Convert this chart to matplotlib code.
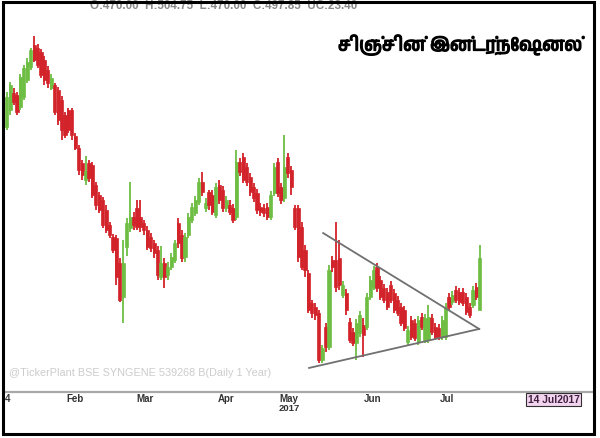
import matplotlib.pyplot as plt
import matplotlib.font_manager as fm
import matplotlib.patheffects as pe
from matplotlib.patches import Rectangle

# candles (prices, daily, mid Jan - 14 Jul 2017)
opens = [568.0, 577.1, 586.2, 585.1, 578.7, 584.0, 593.2, 600.1, 611.9, 610.3,
         608.1, 603.9, 598.5, 588.9, 590.5, 587.8, 582.4, 574.4, 577.1, 577.1,
         563.2, 556.7, 548.7, 539.6, 548.7, 547.6, 536.9, 531.6, 528.9, 523.5,
         515.5, 509.1, 508.5, 495.1, 476.9, 503.7, 513.9, 519.8, 524.6, 519.8,
         516.6, 512.8, 509.1, 505.8, 502.1, 487.6, 495.1, 488.7, 493.0, 496.7,
         516.6, 510.1, 498.4, 510.1, 518.2, 521.9, 527.8, 538.5, 524.6, 533.2,
         531.6, 520.8, 536.9, 534.2, 524.6, 526.2, 524.6, 519.8, 549.2, 551.9,
         546.6, 541.2, 535.8, 532.6, 525.1, 524.6, 525.1, 519.8, 532.6, 549.2,
         535.8, 530.0, 551.9, 544.9, 524.6, 524.6, 514.4, 502.1, 489.8, 473.7,
         471.6, 468.4, 443.2, 460.9, 450.1, 496.7, 496.7, 497.8, 478.0, 479.1,
         463.5, 458.2, 452.3, 457.6, 461.9, 460.9, 476.9, 482.3, 493.0, 486.0,
         481.7, 479.6, 483.4, 479.1, 475.3, 471.6, 470.0, 452.8, 464.6, 463.0,
         452.8, 466.2, 453.9, 453.9, 465.7, 460.9, 460.3, 455.5, 455.5, 476.9,
         474.2, 480.7, 479.6, 479.6, 476.9, 471.6, 472.6, 482.3, 470.0]
highs = [586.7, 592.1, 588.9, 586.7, 596.4, 601.2, 604.9, 610.3, 616.7, 612.4,
         609.8, 606.0, 600.7, 596.4, 591.5, 589.4, 584.6, 576.0, 578.2, 578.2,
         564.8, 558.3, 550.3, 552.4, 550.3, 549.2, 538.5, 533.2, 530.5, 526.2,
         517.1, 510.7, 510.1, 497.8, 507.5, 519.2, 538.5, 522.5, 528.9, 528.9,
         518.2, 515.0, 511.2, 507.5, 504.2, 504.2, 497.8, 495.7, 500.5, 507.5,
         519.2, 512.8, 511.2, 521.9, 527.3, 531.0, 540.7, 543.9, 530.0, 534.2,
         534.2, 538.0, 539.6, 536.4, 531.0, 528.9, 526.7, 555.7, 551.4, 554.1,
         548.7, 543.3, 538.0, 534.8, 527.3, 526.7, 527.3, 533.7, 548.7, 551.4,
         538.0, 563.7, 554.1, 547.1, 526.2, 526.2, 517.1, 504.8, 491.4, 475.3,
         473.7, 470.0, 451.2, 463.0, 494.1, 498.9, 517.1, 507.5, 485.5, 481.2,
         465.7, 460.3, 465.1, 469.4, 465.7, 479.1, 488.2, 493.5, 495.1, 488.2,
         483.9, 481.7, 485.5, 481.2, 477.5, 473.7, 472.1, 461.4, 466.8, 465.1,
         466.8, 468.4, 467.8, 472.6, 467.8, 463.0, 462.5, 466.8, 473.7, 479.1,
         480.1, 482.8, 481.7, 481.7, 479.1, 473.7, 482.8, 484.4, 504.75]
lows = [566.4, 574.4, 579.8, 574.4, 577.1, 582.4, 591.5, 598.5, 602.8, 599.6,
        594.2, 590.5, 588.9, 587.8, 574.4, 569.1, 561.0, 562.1, 564.8, 561.0,
        555.7, 542.3, 539.6, 536.9, 538.5, 530.0, 523.5, 521.9, 513.9, 511.2,
        508.5, 500.5, 483.4, 474.2, 463.0, 498.9, 511.7, 512.8, 512.8, 511.7,
        510.1, 502.1, 501.0, 497.8, 486.0, 486.0, 481.7, 486.0, 491.4, 495.1,
        503.2, 495.7, 495.7, 508.5, 516.6, 520.3, 526.2, 531.0, 522.5, 523.5,
        520.8, 519.2, 526.7, 522.5, 522.5, 520.8, 516.6, 518.2, 541.7, 538.0,
        536.4, 531.0, 527.8, 521.4, 520.3, 519.8, 518.2, 518.2, 531.0, 530.5,
        526.7, 527.8, 540.7, 531.6, 512.8, 495.7, 491.4, 487.6, 468.4, 465.7,
        464.6, 441.6, 441.6, 447.5, 448.5, 490.3, 479.6, 480.7, 476.4, 467.3,
        452.3, 450.7, 443.2, 455.5, 444.8, 459.3, 475.3, 480.7, 479.6, 475.3,
        473.7, 470.0, 473.7, 468.4, 466.8, 461.4, 458.7, 451.2, 453.9, 453.4,
        451.2, 459.3, 452.3, 452.3, 456.6, 453.9, 453.9, 453.9, 453.9, 470.0,
        472.6, 473.7, 472.6, 472.1, 467.3, 465.7, 471.0, 475.3, 470.0]
closes = [584.0, 590.5, 581.4, 576.0, 594.8, 599.6, 602.8, 609.2, 603.9, 601.2,
          595.8, 593.2, 591.5, 594.2, 576.0, 571.7, 566.4, 563.7, 566.4, 563.7,
          556.7, 544.9, 542.3, 544.4, 540.7, 531.6, 526.2, 523.5, 515.5, 512.8,
          510.1, 502.1, 487.6, 475.3, 495.1, 516.6, 519.8, 515.5, 514.4, 514.4,
          512.8, 503.7, 503.2, 500.5, 488.7, 495.1, 487.6, 493.0, 498.4, 505.8,
          505.8, 497.8, 509.1, 519.8, 525.1, 528.9, 538.5, 533.2, 527.3, 526.2,
          522.5, 535.8, 528.9, 524.6, 528.9, 522.5, 518.2, 549.2, 543.9, 539.6,
          538.5, 533.2, 530.0, 523.5, 522.5, 521.9, 519.8, 531.6, 546.6, 532.6,
          528.9, 546.6, 543.3, 535.8, 514.4, 498.4, 493.0, 491.4, 470.0, 468.4,
          467.3, 443.2, 449.6, 450.1, 491.4, 493.0, 482.3, 483.4, 483.4, 470.0,
          453.9, 452.3, 463.0, 467.3, 456.6, 476.9, 486.0, 491.4, 481.7, 476.9,
          475.3, 471.6, 475.3, 470.0, 468.4, 463.0, 460.3, 459.3, 455.5, 455.0,
          464.6, 460.9, 465.7, 466.2, 458.2, 455.5, 455.5, 464.6, 471.6, 471.6,
          478.0, 475.3, 474.2, 473.7, 468.9, 467.3, 480.7, 476.9, 497.85]

# month labels (candle index where they sit)
month_pos = [0.4, 20.0, 40.4, 64.0, 82.4, 106.6, 128.4]
month_labels = ['4', 'Feb', 'Mar', 'Apr', 'May', 'Jun', 'Jul']

# triangle drawn over the chart (candle index, price)
upper_line_x = [92.3, 137.8]
upper_line_y = [511.2, 459.8]
lower_line_x = [88.2, 137.8]
lower_line_y = [438.9, 459.8]

title = 'சிஞ்சின் இன்டர்நேஷனல்'
header = 'O:470.00  H:504.75  L:470.00  C:497.85  UC:23.40'
source = '@TickerPlant BSE SYNGENE 539268 B(Daily 1 Year)'

RED = '#d2232a'
GREEN = '#6fbe44'

# pick a font that can draw Tamil, if one is around
tamil_font = ['DejaVu Sans']
for f in fm.fontManager.ttflist:
    if 'Tamil' in f.name:
        tamil_font = [f.name, 'DejaVu Sans']
        break

W, H = 600, 439
fig = plt.figure(figsize=(W / 100, H / 100), dpi=100)
ax = fig.add_axes([5 / W, 1 - 393 / H, 588 / W, 388 / H])

idx = list(range(len(opens)))
colors = [GREEN if c >= o else RED for o, c in zip(opens, closes)]
bottoms = [min(o, c) for o, c in zip(opens, closes)]
heights = [max(abs(c - o), 0.6) for o, c in zip(opens, closes)]

ax.vlines(idx, lows, highs, colors=colors, linewidth=1.3)
ax.bar(idx, heights, bottom=bottoms, width=0.95, color=colors,
       edgecolor=colors, linewidth=0.5)

ax.plot(upper_line_x, upper_line_y, color='#707070', linewidth=1.3)
ax.plot(lower_line_x, lower_line_y, color='#707070', linewidth=1.3)

ax.set_xlim(-0.5, 171)
ax.set_ylim(426, 634)
ax.set_yticks([])
ax.set_xticks(month_pos)
ax.set_xticklabels(month_labels, fontsize=7, fontweight='bold',
                   color='#333333', family='Liberation Sans')
ax.tick_params(axis='x', length=0, pad=0.5)
for s in ['top', 'right', 'left']:
    ax.spines[s].set_visible(False)
ax.spines['bottom'].set_color('#a8a8a8')
ax.spines['bottom'].set_linewidth(1.6)

ax.text(82.4, -0.041, '2017', transform=ax.get_xaxis_transform(),
        ha='center', va='center', fontsize=6.8, fontweight='bold',
        color='#333333', family='Liberation Sans')
ax.text(0.8, 436.5, source, fontsize=7.8, color='#cccccc',
        family='Liberation Sans', va='center')

fig.text(582 / W, 1 - 46 / H, title, ha='right', va='center',
         fontsize=13, fontweight='bold', family=tamil_font,
         path_effects=[pe.withStroke(linewidth=0.9, foreground='black')])
fig.text(90 / W, 1 - 6 / H, header, ha='left', va='center', fontsize=8.4,
         fontweight='bold', color='#8a8a8a', family='Liberation Sans')
fig.text(553.5 / W, 1 - 400.5 / H, '14 Jul2017', ha='center', va='center',
         fontsize=7.4, fontweight='bold', color='#402040',
         family='Liberation Sans',
         bbox=dict(boxstyle='square,pad=0.18', facecolor='#f2d4ee',
                   edgecolor='#303030', linewidth=0.8))

# outer frame
fig.patches.append(Rectangle((3 / W, 4 / H), 591 / W, 432 / H,
                             transform=fig.transFigure, fill=False,
                             edgecolor='black', linewidth=2.2, zorder=10))

fig.savefig('out.png', dpi=100)
